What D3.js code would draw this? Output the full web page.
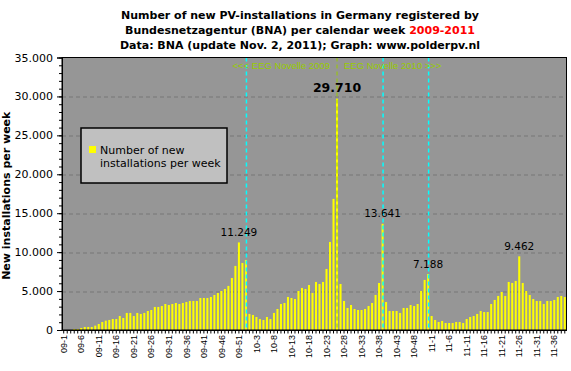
<!DOCTYPE html>
<html>
<head>
<meta charset="utf-8">
<script src="https://cdn.jsdelivr.net/npm/d3@7"></script>
<style>
  body { margin: 0; background: #fff; }
  #chart { width: 571px; height: 371px; }
  text { font-family: 'DejaVu Sans', Verdana, sans-serif; }
</style>
</head>
<body>
<div id="chart"></div>
<script>
//Datos (instalaciones nuevas por semana)
const years = ['09', '10', '11'];

const values2009 = [0, 0, 0, 130, 130, 260, 390, 390, 390, 560,
    770, 1030, 1200, 1290, 1410, 1410, 1800, 1540, 2190, 2190,
    1800, 2190, 2060, 2190, 2440, 2570, 2960, 2960, 3080, 3340,
    3210, 3340, 3470, 3340, 3470, 3600, 3730, 3730, 3730, 4110,
    4110, 4110, 4240, 4500, 4760, 5010, 5270, 5660, 6680, 8230,
    11249, 8610, 9000];

const values2010 = [2060, 1930, 1670, 1410, 1290, 1670, 1410, 2190, 2700, 3340,
    3470, 4240, 4110, 3980, 5010, 5400, 5270, 5780, 4760, 6170,
    5910, 6170, 7840, 11310, 16840, 29710, 5910, 3730, 2830, 3210,
    2700, 2570, 2570, 2700, 3080, 3470, 4500, 6040, 13641, 3600,
    2440, 2440, 2440, 2190, 2830, 2830, 3210, 3080, 3340, 5010,
    6430, 7188];

const values2011 = [1800, 1290, 1030, 1160, 900, 900, 900, 1030, 1030, 900,
    1410, 1670, 1800, 2060, 2440, 2310, 2310, 3340, 3860, 4370,
    4880, 4370, 6170, 6040, 6300, 9462, 6040, 5010, 4500, 3980,
    3730, 3730, 3340, 3730, 3730, 3860, 4240, 4370, 4240];

const tickLabels = ['09-1', '09-6', '09-11', '09-16', '09-21', '09-26', '09-31', '09-36', '09-41', '09-46', '09-51',
    '10-3', '10-8', '10-13', '10-18', '10-23', '10-28', '10-33', '10-38', '10-43', '10-48',
    '11-1', '11-6', '11-11', '11-16', '11-21', '11-26', '11-31', '11-36'];

const labelledWeeks = ['09-51', '10-26', '10-39', '10-52', '11-26'];
const boldWeek = '10-26';
const cyanWeeks = ['09-53', '10-39', '10-52'];
const eegWeek = '10-26';

const yTicks = [0, 5000, 10000, 15000, 20000, 25000, 30000, 35000];

//Construcción de la tabla semana/valor
let data = [];
[values2009, values2010, values2011].forEach(function(arr, i) {
    arr.forEach(function(v, w) { data.push({ week: years[i] + '-' + (w + 1), value: v }); });
});

const nl = d3.formatLocale({ decimal: ',', thousands: '.', grouping: [3], currency: ['', ''] });
const fmt = nl.format(',d');

let margin = {top: 57.5, right: 4.5, bottom: 41, left: 62},
    width = 571 - margin.left - margin.right,
    height = 371 - margin.top - margin.bottom;

let root = d3.select('#chart')
    .append('svg')
        .attr('width', 571)
        .attr('height', 371);

let svg = root.append('g')
    .attr('transform', 'translate(' + margin.left + ',' + margin.top + ')');

let x = d3.scaleBand()
    .domain(data.map(function(d) { return d.week; }))
    .range([0, width])
    .paddingInner(0.42)
    .paddingOuter(0.2);

let y = d3.scaleLinear()
    .domain([0, 35000])
    .range([height, 0]);

function cx(w) { return x(w) + x.bandwidth() / 2; }

//Fondo
svg.append('rect')
    .attr('width', width)
    .attr('height', height)
    .attr('fill', '#969696');

//Rejilla
svg.append('g')
    .selectAll('line')
    .data(yTicks.filter(function(t) { return t > 0 && t < 35000; }))
    .enter()
    .append('line')
    .attr('x1', 0)
    .attr('x2', width)
    .attr('y1', function(d) { return Math.round(y(d)) + 0.5; })
    .attr('y2', function(d) { return Math.round(y(d)) + 0.5; })
    .attr('stroke', '#767676')
    .attr('stroke-dasharray', '4,3');

//Barras
svg.append('g')
    .selectAll('rect')
    .data(data)
    .enter()
    .append('rect')
    .attr('fill', '#ffff00')
    .attr('x', function(d) { return x(d.week); })
    .attr('y', function(d) { return y(d.value); })
    .attr('width', x.bandwidth())
    .attr('height', function(d) { return height - y(d.value); });

//Líneas verticales
svg.append('g')
    .selectAll('line')
    .data(cyanWeeks)
    .enter()
    .append('line')
    .attr('x1', function(d) { return cx(d) + 0.5; })
    .attr('x2', function(d) { return cx(d) + 0.5; })
    .attr('y1', 0)
    .attr('y2', height)
    .attr('stroke', '#00ffff')
    .attr('stroke-width', 1.5)
    .attr('stroke-dasharray', '4,3');

svg.append('line')
    .attr('x1', cx(eegWeek))
    .attr('x2', cx(eegWeek))
    .attr('y1', 0)
    .attr('y2', height)
    .attr('stroke', '#99cc00')
    .attr('stroke-width', 1)
    .attr('stroke-dasharray', '4,3');

svg.append('text')
    .attr('x', cx(eegWeek) - 7)
    .attr('y', 11.5)
    .attr('text-anchor', 'end')
    .style('font-family', "'Liberation Sans', Arial, sans-serif")
    .style('font-size', '9.5px')
    .attr('fill', '#99cc00')
    .text('<<< EEG Novelle 2009');

svg.append('text')
    .attr('x', cx(eegWeek) + 7)
    .attr('y', 11.5)
    .style('font-family', "'Liberation Sans', Arial, sans-serif")
    .style('font-size', '9.5px')
    .attr('fill', '#99cc00')
    .text('EEG Novelle 2010 >>>');

//Etiquetas de valores
svg.append('g')
    .selectAll('text')
    .data(data.filter(function(d) { return labelledWeeks.indexOf(d.week) > -1; }))
    .enter()
    .append('text')
    .attr('x', function(d) { return cx(d.week); })
    .attr('y', function(d) { return y(d.value) - (d.week == boldWeek ? 7 : 6.5); })
    .attr('text-anchor', 'middle')
    .style('font-size', function(d) { return d.week == boldWeek ? '12.5px' : '10.5px'; })
    .style('font-weight', function(d) { return d.week == boldWeek ? 'bold' : 'normal'; })
    .attr('fill', '#000')
    .text(function(d) { return fmt(d.value); });

//Ejes
svg.append('g')
    .attr('class', 'y-minor')
    .call(d3.axisLeft(y).ticks(35).tickSize(3).tickFormat(''))
    .call(function(g) { g.select('.domain').remove(); });

svg.append('g')
    .attr('class', 'y-axis')
    .call(d3.axisLeft(y).tickValues(yTicks).tickSize(5).tickPadding(4).tickFormat(fmt))
    .call(function(g) {
        g.selectAll('text').style('font-size', '11px').style('font-family', "'DejaVu Sans', Verdana, sans-serif").attr('fill', '#000');
    });

svg.append('g')
    .attr('transform', 'translate(0,' + height + ')')
    .call(d3.axisBottom(x).tickSize(3.5).tickPadding(3).tickSizeOuter(0)
        .tickFormat(function(d) { return tickLabels.indexOf(d) > -1 ? d : ''; }))
    .call(function(g) {
        g.selectAll('text')
            .attr('transform', 'rotate(-90)')
            .attr('text-anchor', 'end')
            .attr('x', -5)
            .attr('y', 0)
            .attr('dy', '0.35em')
            .style('font-size', '9px')
            .style('font-family', "'Liberation Sans', Arial, sans-serif")
            .attr('fill', '#000');
    });

//Marco
svg.append('rect')
    .attr('width', width)
    .attr('height', height)
    .attr('fill', 'none')
    .attr('stroke', '#000')
    .attr('stroke-width', 1);

//Leyenda
let legend = root.append('g');
legend.append('rect')
    .attr('x', 81).attr('y', 128)
    .attr('width', 146).attr('height', 55)
    .attr('fill', '#c0c0c0')
    .attr('stroke', '#000')
    .attr('stroke-width', 1.5);
legend.append('rect')
    .attr('x', 89).attr('y', 146)
    .attr('width', 7).attr('height', 7)
    .attr('fill', '#ffff00');
legend.append('text')
    .attr('x', 100).attr('y', 153.5)
    .style('font-size', '11px')
    .text('Number of new');
legend.append('text')
    .attr('x', 100).attr('y', 167)
    .style('font-size', '11px')
    .text('installations per week');

//Título
let title = root.append('text')
    .attr('x', 300)
    .attr('text-anchor', 'middle')
    .style('font-size', '11px')
    .style('font-weight', 'bold')
    .attr('fill', '#000');
title.append('tspan').attr('x', 300).attr('y', 19).text('Number of new PV-installations in Germany registered by');
let t2 = title.append('tspan').attr('x', 300).attr('y', 34).text('Bundesnetzagentur (BNA) per calendar week ');
t2.append('tspan').attr('fill', '#ff0000').text('2009-2011');
title.append('tspan').attr('x', 300).attr('y', 49).text('Data: BNA (update Nov. 2, 2011); Graph: www.polderpv.nl');

//Título eje Y
root.append('text')
    .attr('transform', 'translate(10,' + (margin.top + height / 2 + 2) + ') rotate(-90)')
    .attr('text-anchor', 'middle')
    .style('font-size', '11px')
    .style('font-weight', 'bold')
    .text('New installations per week');
</script>
</body>
</html>
